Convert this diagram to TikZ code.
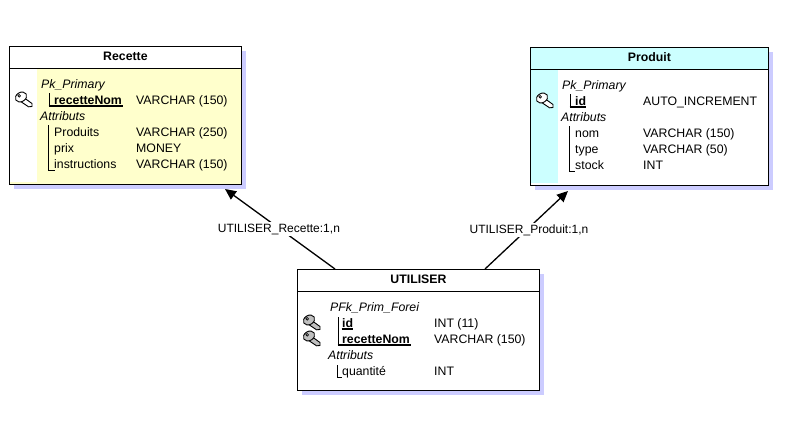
\documentclass[tikz,border=0pt]{standalone}
\usepackage{fontspec}
\usetikzlibrary{arrows.meta}
\setmainfont{Liberation Sans}
\definecolor{shadowblue}{HTML}{CCCCFF}
\definecolor{paleyellow}{HTML}{FFFFCC}
\definecolor{palecyan}{HTML}{CCFFFF}
\tikzset{
    shadowbox/.style={fill=shadowblue,inner sep=0pt,anchor=north west},
    tablebox/.style={draw,line width=0.9pt,inner sep=0pt,anchor=north west},
    strip/.style={inner sep=0pt,anchor=north west},
    headbox/.style={draw,line width=0.9pt,inner sep=0pt,anchor=north west,minimum height=21.5pt,text depth=2.5pt,text height=9.5pt,font=\fontsize{12.3}{14}\bfseries},
    cell/.style={inner sep=0pt,anchor=base west,font=\fontsize{12.3}{14}\selectfont},
    keycell/.style={cell,font=\fontsize{12.3}{14}\bfseries},
    groupcell/.style={cell,font=\fontsize{12.3}{14}\itshape},
    bracket/.style={line width=0.9pt},
    keyline/.style={line width=1.2pt},
    relation/.style={line width=1.3pt,-{Triangle[length=11pt,width=10pt]}},
    rolelabel/.style={fill=white,inner sep=1.5pt,font=\fontsize{12}{14}\selectfont},
    pics/keyicon/.style={code={
        \draw[line width=0.9pt,fill=#1] (8,5) -- (17,11.5) -- (17,14.5) -- (13.5,14.8) -- (5,9) -- cycle;
        \draw[line width=0.9pt,fill=#1,rotate around={30:(6,5)}] (6,5) ellipse (6 and 4.6);
        \draw[line width=0.7pt,fill=white] (4.2,3.8) circle (1.3);
    }},
}
\begin{document}
\begin{tikzpicture}[x=1pt,y=-1pt]
    \useasboundingbox (0,0) rectangle (796,426);

    % Recette
    \node[shadowbox,minimum width=232pt,minimum height=138pt] (recetteShadow) at (14,51) {};
    \node[tablebox,fill=paleyellow,minimum width=232pt,minimum height=138pt] (recette) at (9,46) {};
    \node[strip,fill=white,minimum width=27pt,minimum height=114pt] (recetteStrip) at (10,68) {};
    \node[headbox,fill=white,minimum width=232pt] (recetteHead) at (recette.north west) {Recette};
    \pic at (15,92) {keyicon=white};
    \node[groupcell] (recettePk) at (41,88) {Pk\_Primary};
    \node[keycell] (recetteNom) at (54,104) {recetteNom};
    \node[cell] (recetteNomType) at (136,104) {VARCHAR (150)};
    \node[groupcell] (recetteAttr) at (40,120) {Attributs};
    \node[cell] (recetteProduits) at (54,136) {Produits};
    \node[cell] (recetteProduitsType) at (136,136) {VARCHAR (250)};
    \node[cell] (recettePrix) at (54,152) {prix};
    \node[cell] (recettePrixType) at (136,152) {MONEY};
    \node[cell] (recetteInstr) at (54,168) {instructions};
    \node[cell] (recetteInstrType) at (136,168) {VARCHAR (150)};
    \draw[bracket] (49,93) -- (49,106);
    \draw[keyline] (48.5,106) -- (122.5,106);
    \draw[bracket] (48,125) -- (48,170) -- (55,170);

    % Produit
    \node[shadowbox,minimum width=238pt,minimum height=138pt] (produitShadow) at (535,52) {};
    \node[tablebox,fill=white,minimum width=238pt,minimum height=138pt] (produit) at (530,47) {};
    \node[strip,fill=palecyan,minimum width=27pt,minimum height=114pt] (produitStrip) at (531,69) {};
    \node[headbox,fill=palecyan,minimum width=238pt] (produitHead) at (produit.north west) {Produit};
    \pic at (536,93) {keyicon=white};
    \node[groupcell] (produitPk) at (562,89) {Pk\_Primary};
    \node[keycell] (produitId) at (575,105) {id};
    \node[cell] (produitIdType) at (643,105) {AUTO\_INCREMENT};
    \node[groupcell] (produitAttr) at (561,121) {Attributs};
    \node[cell] (produitNom) at (575,137) {nom};
    \node[cell] (produitNomType) at (643,137) {VARCHAR (150)};
    \node[cell] (produitGenre) at (575,153) {type};
    \node[cell] (produitGenreType) at (643,153) {VARCHAR (50)};
    \node[cell] (produitStock) at (575,169) {stock};
    \node[cell] (produitStockType) at (643,169) {INT};
    \draw[bracket] (570,94) -- (570,107);
    \draw[keyline] (569.5,107) -- (585.5,107);
    \draw[bracket] (569,126) -- (569,171) -- (575,171);

    % UTILISER
    \node[shadowbox,minimum width=242pt,minimum height=121pt] (utiliserShadow) at (302,274) {};
    \node[tablebox,fill=white,minimum width=242pt,minimum height=121pt] (utiliser) at (297,269) {};
    \node[headbox,fill=white,minimum width=242pt] (utiliserHead) at (utiliser.north west) {UTILISER};
    \pic at (303,315) {keyicon=gray!50};
    \pic at (303,331) {keyicon=gray!50};
    \node[groupcell] (utiliserPk) at (330,311) {PFk\_Prim\_Forei};
    \node[keycell] (utiliserId) at (342,327) {id};
    \node[cell] (utiliserIdType) at (434,327) {INT (11)};
    \node[keycell] (utiliserNom) at (342,343) {recetteNom};
    \node[cell] (utiliserNomType) at (434,343) {VARCHAR (150)};
    \node[groupcell] (utiliserAttr) at (328,359) {Attributs};
    \node[cell] (utiliserQte) at (342,375) {quantité};
    \node[cell] (utiliserQteType) at (434,375) {INT};
    \draw[bracket] (338,317) -- (338,345);
    \draw[keyline] (341.5,329) -- (352.5,329);
    \draw[keyline] (337.5,345) -- (410.5,345);
    \draw[bracket] (337,365) -- (337,377) -- (342,377);

    % relations
    \coordinate (recetteEnd) at (225,189);
    \coordinate (produitEnd) at (568,191);
    \coordinate (utiliserLeft) at (335,269);
    \coordinate (utiliserRight) at (485,269);
    \draw[relation] (utiliserLeft) -- node[rolelabel,pos=0.51,yshift=-1pt] (recetteRole) {UTILISER\_Recette:1,n} (recetteEnd);
    \draw[relation] (utiliserRight) -- node[rolelabel,pos=0.53,yshift=-2.5pt] (produitRole) {UTILISER\_Produit:1,n} (produitEnd);
\end{tikzpicture}
\end{document}
